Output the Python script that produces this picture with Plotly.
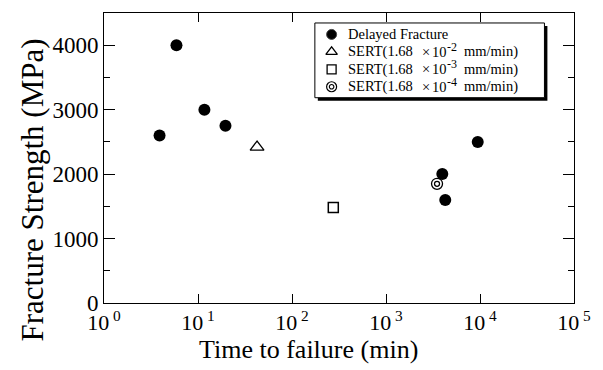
import plotly.graph_objects as go

# ---- data ----
delayed_time = [3.9, 5.9, 11.7, 19.6, 3970, 4270, 9460]
delayed_strength = [2600, 4000, 3000, 2750, 2000, 1600, 2500]

sert2_time = [42.5]
sert2_strength = [2420]
sert3_time = [275]
sert3_strength = [1480]
sert4_time = [3490]
sert4_strength = [1850]

x_tick_vals = [1, 10, 100, 1000, 10000, 100000]
x_tick_text = ["10<sup> 0</sup>", "10<sup> 1</sup>", "10<sup> 2</sup>",
               "10<sup> 3</sup>", "10<sup> 4</sup>", "10<sup> 5</sup>"]
y_tick_vals = [0, 1000, 2000, 3000, 4000]

legend_first = "Delayed Fracture"
sert_prefix = "SERT(1.68"
sert_exponents = ["-2", "-3", "-4"]
sert_unit = "mm/min)"

FONT = "Liberation Serif, Times New Roman, serif"

fig = go.Figure()

fig.add_trace(go.Scatter(x=delayed_time, y=delayed_strength, mode="markers",
                         marker=dict(symbol="circle", size=12, color="black"),
                         showlegend=False))
fig.add_trace(go.Scatter(x=sert2_time, y=sert2_strength, mode="markers",
                         marker=dict(symbol="triangle-up-open", size=12, color="black",
                                     line=dict(width=1.3)),
                         showlegend=False))
fig.add_trace(go.Scatter(x=sert3_time, y=sert3_strength, mode="markers",
                         marker=dict(symbol="square-open", size=10, color="black",
                                     line=dict(width=1.5)),
                         showlegend=False))
fig.add_trace(go.Scatter(x=sert4_time, y=sert4_strength, mode="markers",
                         marker=dict(symbol="circle-open", size=11, color="black",
                                     line=dict(width=1.3)),
                         showlegend=False))
fig.add_trace(go.Scatter(x=sert4_time, y=sert4_strength, mode="markers",
                         marker=dict(symbol="circle-open", size=5, color="black",
                                     line=dict(width=1.3)),
                         showlegend=False))

# ---- manual legend on a pixel-based overlay axis ----
L, R, T, B = 104, 581, 12, 303
box_x0, box_x1, box_y0, box_y1 = 318, 551, 22, 97
rows_y = [33.5, 51, 68.5, 86]
sym_x = 335
text_x = 350

legend_symbols = [("circle", 10, 1), ("triangle-up-open", 10, 1.3),
                  ("square-open", 9, 1.3), ("circle-open", 10, 1.2)]
for (sym, sz, lw), yy in zip(legend_symbols, rows_y):
    fig.add_trace(go.Scatter(x=[sym_x], y=[yy], xaxis="x2", yaxis="y2", mode="markers",
                             marker=dict(symbol=sym, size=sz, color="black",
                                         line=dict(width=lw)),
                             showlegend=False, hoverinfo="skip"))
fig.add_trace(go.Scatter(x=[sym_x], y=[rows_y[3]], xaxis="x2", yaxis="y2", mode="markers",
                         marker=dict(symbol="circle-open", size=4.5, color="black",
                                     line=dict(width=1.2)),
                         showlegend=False, hoverinfo="skip"))

# shadow + box
fig.add_shape(type="rect", xref="x2", yref="y2", x0=box_x0 + 3, x1=box_x1 + 3,
              y0=box_y0 + 3, y1=box_y1 + 3, fillcolor="black", line=dict(width=0),
              layer="below")
fig.add_shape(type="rect", xref="x2", yref="y2", x0=box_x0, x1=box_x1,
              y0=box_y0, y1=box_y1, fillcolor="white", line=dict(color="black", width=1),
              layer="below")

def ann(x, y, text, size):
    fig.add_annotation(x=x, y=y, xref="x2", yref="y2", text=text,
                       showarrow=False, xanchor="left", yanchor="middle",
                       font=dict(family=FONT, size=size, color="black"))

ann(text_x, rows_y[0], legend_first, 14.5)
for exp, yy in zip(sert_exponents, rows_y[1:]):
    ann(text_x, yy, sert_prefix, 14.5)
    ann(425, yy, "\u00d7", 14.5)
    ann(435, yy, "10", 14.5)
    ann(450, yy - 5, exp, 12)
    ann(467, yy, sert_unit, 14.5)

# axis titles as annotations (positioned like the reference)
fig.add_annotation(x=(312 - L) / (R - L), y=(B - 350) / (B - T), xref="paper", yref="paper",
                   text="Time to failure (min)", showarrow=False,
                   xanchor="center", yanchor="middle",
                   font=dict(family=FONT, size=26, color="black"))
fig.add_annotation(x=(31 - L) / (R - L), y=(B - 190) / (B - T), xref="paper", yref="paper",
                   text="Fracture Strength (MPa)", showarrow=False, textangle=-90,
                   xanchor="center", yanchor="middle",
                   font=dict(family=FONT, size=31, color="black"))

fig.update_layout(
    width=603, height=370,
    margin=dict(l=L, r=603 - R, t=T, b=370 - B),
    paper_bgcolor="white", plot_bgcolor="white",
    font=dict(family=FONT, color="black"),
    showlegend=False,
    xaxis=dict(type="log", range=[0, 5], tickvals=x_tick_vals, ticktext=x_tick_text,
               ticks="inside", ticklen=9, tickwidth=1, tickcolor="black",
               showline=True, linecolor="black", linewidth=1, mirror="ticks",
               showgrid=False, zeroline=False,
               tickfont=dict(family=FONT, size=22)),
    yaxis=dict(range=[0, 4500], tickvals=y_tick_vals,
               ticks="inside", ticklen=11, tickwidth=1, tickcolor="black",
               minor=dict(dtick=500, ticks="inside", ticklen=6, tickcolor="black",
                          showgrid=False),
               showline=True, linecolor="black", linewidth=1, mirror="ticks",
               showgrid=False, zeroline=False,
               tickfont=dict(family=FONT, size=23)),
    xaxis2=dict(range=[L, R], overlaying="x", visible=False, fixedrange=True),
    yaxis2=dict(range=[B, T], overlaying="y", visible=False, fixedrange=True),
)

fig.write_html("out.html")
